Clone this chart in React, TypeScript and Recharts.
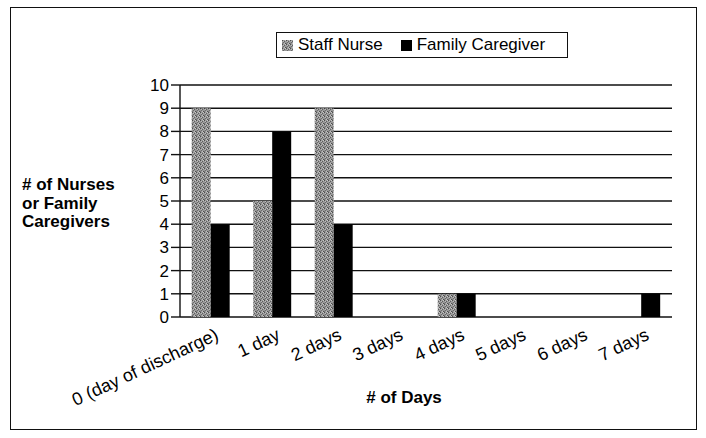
import { Bar, BarChart, CartesianGrid, XAxis, YAxis } from "recharts";

// ─── Data ─────────────────────────────────────────────────────────────────────

const days = [
  "0 (day of discharge)",
  "1 day",
  "2 days",
  "3 days",
  "4 days",
  "5 days",
  "6 days",
  "7 days",
];
const staffNurse = [9, 5, 9, 0, 1, 0, 0, 0];
const familyCaregiver = [4, 8, 4, 0, 1, 0, 0, 1];
const yTicks = [0, 1, 2, 3, 4, 5, 6, 7, 8, 9, 10];
const edgeTicks = [0, 1, 2, 3, 4, 5, 6, 7, 8];

const series = [
  { key: "staff", name: "Staff Nurse", fill: "url(#stipple)" },
  { key: "family", name: "Family Caregiver", fill: "#000000" },
];

const data = days.map((d, i) => ({
  day: d,
  staff: staffNurse[i],
  family: familyCaregiver[i],
}));

// ─── Styles ───────────────────────────────────────────────────────────────────

const FONT = '"Liberation Sans", Arial, sans-serif';
const INK = "#111111";
const axisTick = { fill: "#000", fontSize: 17, fontFamily: FONT } as const;

function StippleDefs() {
  return (
    <defs>
      <pattern id="stipple" width="4" height="4" patternUnits="userSpaceOnUse">
        <rect width="4" height="4" fill="#999999" />
        <rect x="0" y="0" width="1" height="1" fill="#4e4e4e" />
        <rect x="2" y="1" width="1" height="1" fill="#5e5e5e" />
        <rect x="1" y="2" width="1" height="1" fill="#6a6a6a" />
        <rect x="3" y="3" width="1" height="1" fill="#505050" />
        <rect x="3" y="0" width="1" height="1" fill="#c8c8c8" />
        <rect x="1" y="1" width="1" height="1" fill="#bcbcbc" />
        <rect x="0" y="3" width="1" height="1" fill="#777777" />
        <rect x="2" y="3" width="1" height="1" fill="#c0c0c0" />
      </pattern>
    </defs>
  );
}

function DayTick(props: any) {
  const { x, y, payload } = props;
  const ax = x + 9;
  const ay = y + 22;
  return (
    <text
      x={ax}
      y={ay}
      textAnchor="end"
      fontSize={18}
      fontFamily={FONT}
      fill="#000"
      transform={`rotate(-25, ${ax}, ${ay})`}
    >
      {payload.value}
    </text>
  );
}

// ─── Chart ────────────────────────────────────────────────────────────────────

export default function App() {
  return (
    <div
      style={{
        position: "absolute",
        left: 0,
        top: 0,
        width: 706,
        height: 438,
        background: "#fff",
        fontFamily: FONT,
      }}
    >
      {/* outer frame */}
      <div
        style={{
          position: "absolute",
          left: 10,
          top: 7,
          width: 687,
          height: 423,
          border: `1.5px solid ${INK}`,
          boxSizing: "border-box",
        }}
      />

      {/* legend */}
      <div
        style={{
          position: "absolute",
          left: 276,
          top: 32,
          width: 292,
          height: 26,
          border: `1px solid ${INK}`,
          boxSizing: "border-box",
          display: "flex",
          alignItems: "center",
          paddingLeft: 5,
          fontSize: 17,
          color: "#000",
        }}
      >
        {series.map((s) => (
          <span
            key={s.key}
            style={{ display: "flex", alignItems: "center", marginRight: 18 }}
          >
            <svg width={11} height={11} style={{ marginRight: 5 }}>
              <rect width={11} height={11} fill={s.fill} />
            </svg>
            {s.name}
          </span>
        ))}
      </div>

      {/* y axis title */}
      <div
        style={{
          position: "absolute",
          left: 22,
          top: 176,
          fontSize: 17,
          fontWeight: 700,
          lineHeight: "18.5px",
          color: "#000",
        }}
      >
        # of Nurses
        <br />
        or Family
        <br />
        Caregivers
      </div>

      {/* x axis title */}
      <div
        style={{
          position: "absolute",
          left: 304,
          width: 200,
          top: 388,
          textAlign: "center",
          fontSize: 17,
          fontWeight: 700,
          color: "#000",
        }}
      >
        # of Days
      </div>

      <div style={{ position: "absolute", left: 0, top: 0 }}>
        <BarChart
          width={706}
          height={438}
          data={data}
          margin={{ top: 85, right: 34, bottom: 31, left: 0 }}
          barCategoryGap="19%"
          barGap={0}
        >
          <StippleDefs />
          <CartesianGrid
            horizontal
            vertical={false}
            stroke={INK}
            strokeWidth={1.4}
          />
          <XAxis
            xAxisId="edge"
            type="number"
            domain={[0, 8]}
            ticks={edgeTicks}
            tick={false}
            tickSize={5}
            height={0}
            axisLine={{ stroke: INK, strokeWidth: 1.4 }}
            tickLine={{ stroke: INK, strokeWidth: 1.4 }}
          />
          <XAxis
            dataKey="day"
            interval={0}
            height={90}
            axisLine={false}
            tickLine={false}
            tickSize={0}
            tickMargin={0}
            tick={<DayTick />}
          />
          <YAxis
            domain={[0, 10]}
            ticks={yTicks}
            interval={0}
            width={180}
            tick={axisTick}
            tickSize={9}
            tickMargin={2}
            axisLine={{ stroke: INK, strokeWidth: 1.4 }}
            tickLine={{ stroke: INK, strokeWidth: 1.4 }}
          />
          <YAxis
            yAxisId="right"
            orientation="right"
            domain={[0, 10]}
            width={0}
            tick={false}
            tickLine={false}
            axisLine={{ stroke: INK, strokeWidth: 1.4 }}
          />
          {series.map((s) => (
            <Bar
              key={s.key}
              dataKey={s.key}
              name={s.name}
              fill={s.fill}
              isAnimationActive={false}
            />
          ))}
        </BarChart>
      </div>
    </div>
  );
}
